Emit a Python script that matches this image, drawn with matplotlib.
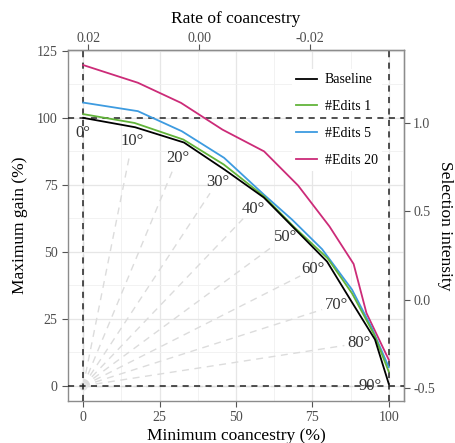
import matplotlib.pyplot as plt
import numpy as np

plt.rcParams['font.family'] = ['Liberation Serif', 'DejaVu Serif']

# 各曲线数据（最小共祖率 %, 最大增益 %）
baseline_x = [0, 17, 33, 46.5, 59.1, 69.5, 79.8, 87.8, 95.5, 100]
baseline_y = [100, 96.5, 90.8, 80.5, 70.3, 58.3, 46.4, 31.5, 17.3, 0.8]
edits1_x = [0, 16.8, 32.8, 46.0, 59.2, 69.0, 80.0, 88.0, 95.3, 100]
edits1_y = [101.4, 98.1, 91.9, 82.6, 70.7, 59.3, 47.6, 34.5, 19.0, 5.3]
edits5_x = [0, 17.9, 32.3, 46.1, 59.2, 68.4, 78.2, 88.0, 94.5, 100]
edits5_y = [105.7, 102.5, 95.0, 85.1, 71.3, 62.0, 51.0, 35.9, 21.5, 7.0]
edits20_x = [0, 17.9, 32.0, 45.6, 59.2, 70.3, 80.6, 88.5, 92.7, 100]
edits20_y = [119.7, 113.1, 105.6, 95.6, 87.5, 74.8, 59.5, 45.5, 27.2, 9.8]

series_names = ['Baseline', '#Edits 1', '#Edits 5', '#Edits 20']
series_colors = ['black', '#62b43a', '#3d9be0', '#cc2b78']

# 角度标注
angles = [0, 10, 20, 30, 40, 50, 60, 70, 80, 90]
label_r = [94.4, 92.7, 90.5, 88.0, 86.4, 86.3, 87.0, 88.2, 91.8, 94.0]

top_ticks = [0.02, 0.00, -0.02]
right_ticks = [-0.5, 0.0, 0.5, 1.0]

fig = plt.figure(figsize=(4.56, 4.43), dpi=100)
ax = fig.add_axes([0.149, 0.095, 0.737, 0.792])

# 射线
for a, r in zip(angles, label_r):
    t = np.deg2rad(a)
    rr = r - 5
    ax.plot([0, rr * np.sin(t)], [0, rr * np.cos(t)], color='#dcdcdc', lw=1.0,
            ls=(0, (5, 4)), zorder=1)
ax.plot([0], [0], 'o', color='#e6e6e6', ms=5, zorder=1)

# 参考虚线
ax.axhline(100, color='#222222', lw=1.1, ls=(0, (4, 3.5)), zorder=3)
ax.axhline(0, color='#222222', lw=1.1, ls=(0, (4, 3.5)), zorder=3)
ax.axvline(0, color='#222222', lw=1.1, ls=(0, (4, 3.5)), zorder=3)
ax.axvline(100, color='#222222', lw=1.1, ls=(0, (4, 3.5)), zorder=3)

xs = [baseline_x, edits1_x, edits5_x, edits20_x]
ys = [baseline_y, edits1_y, edits5_y, edits20_y]
order = [3, 2, 1, 0]
handles = {}
for i in order:
    h, = ax.plot(xs[i], ys[i], color=series_colors[i], lw=1.3, zorder=4,
                 label=series_names[i])
    handles[i] = h

for a, r in zip(angles, label_r):
    t = np.deg2rad(a)
    ax.text(r * np.sin(t), r * np.cos(t), '%d°' % a, fontsize=12,
            color='#333333', ha='center', va='center', zorder=5)

ax.set_xlim(-5, 105)
ax.set_ylim(-5.6, 125.3)
ax.set_xticks([0, 25, 50, 75, 100])
ax.set_yticks([0, 25, 50, 75, 100, 125])
ax.set_xticks([12.5, 37.5, 62.5, 87.5], minor=True)
ax.set_yticks([12.5, 37.5, 62.5, 87.5, 112.5], minor=True)
ax.grid(True, which='major', color='#e6e6e6', lw=0.9, zorder=0)
ax.grid(True, which='minor', color='#f0f0f0', lw=0.6, zorder=0)
ax.set_axisbelow(True)
ax.tick_params(which='major', length=4, color='#555555', labelsize=10,
               labelcolor='#4d4d4d')
ax.tick_params(which='minor', length=0)
for s in ax.spines.values():
    s.set_color('#8c8c8c')
    s.set_linewidth(1.0)

ax.set_xlabel('Minimum coancestry (%)', fontsize=12.5, labelpad=3)
ax.set_ylabel('Maximum gain (%)', fontsize=12.5, labelpad=6)

# 顶部坐标：共祖率
def x2rate(x):
    return (38 - x) * 0.02 / 36.3


def rate2x(r):
    return 38 - r * 36.3 / 0.02


top = ax.secondary_xaxis('top', functions=(x2rate, rate2x))
top.set_xticks(top_ticks)
top.set_xticklabels(['%.2f' % v for v in top_ticks])
top.tick_params(length=4, pad=0, color='#555555', labelsize=10,
                labelcolor='#4d4d4d')
top.set_xlabel('Rate of coancestry', fontsize=12.5, labelpad=6)

# 右侧坐标：选择强度
def y2int(y):
    return (y + 0.75) / 65.9 - 0.5


def int2y(i):
    return -0.75 + (i + 0.5) * 65.9


right = ax.secondary_yaxis('right', functions=(y2int, int2y))
right.set_yticks(right_ticks)
right.set_yticklabels(['%.1f' % v for v in right_ticks])
right.tick_params(length=4, pad=2.5, color='#555555', labelsize=10,
                  labelcolor='#4d4d4d')
right.set_ylabel('Selection intensity', fontsize=12.5, rotation=270, labelpad=13)

leg = ax.legend([handles[i] for i in range(4)], series_names, loc='upper left',
                bbox_to_anchor=(0.645, 0.965), frameon=True, fontsize=10,
                handlelength=1.5, labelspacing=1.0, borderpad=0.3,
                handletextpad=0.6)
leg.get_frame().set_edgecolor('none')
leg.get_frame().set_facecolor('white')
leg.get_frame().set_alpha(1)
leg.set_zorder(2)

fig.savefig('out.png', dpi=100)
